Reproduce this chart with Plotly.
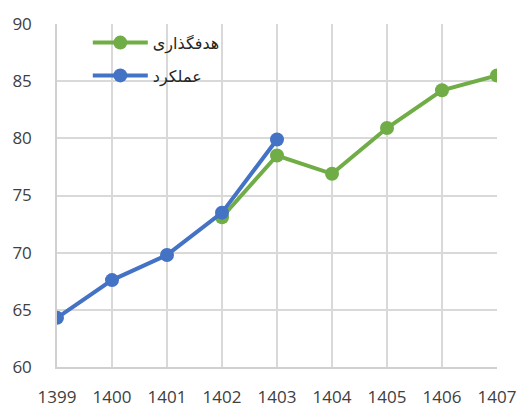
import plotly.graph_objects as go

years = ["1399", "1400", "1401", "1402", "1403", "1404", "1405", "1406", "1407"]
target_years = ["1402", "1403", "1404", "1405", "1406", "1407"]
target_values = [73.1, 78.5, 76.9, 80.9, 84.2, 85.5]
actual_years = ["1399", "1400", "1401", "1402", "1403"]
actual_values = [64.3, 67.6, 69.8, 73.5, 79.9]
target_name = "هدفگذاری"
actual_name = "عملکرد"

xi = {y: i for i, y in enumerate(years)}

fig = go.Figure()
fig.add_trace(go.Scatter(
    x=[xi[y] for y in target_years], y=target_values, name=target_name,
    legendgroup="t", mode="lines+markers", line=dict(color="#70AD47", width=4),
    marker=dict(size=14, color="#70AD47")))
fig.add_trace(go.Scatter(
    x=[xi[y] for y in actual_years], y=actual_values, name=actual_name,
    legendgroup="a", mode="lines+markers", line=dict(color="#4472C4", width=4),
    marker=dict(size=14, color="#4472C4")))

fig.update_layout(
    width=520, height=405,
    margin=dict(l=57, r=23, t=24, b=38),
    plot_bgcolor="white", paper_bgcolor="white",
    font=dict(family="Open Sans", size=17, color="#404040"),
    showlegend=True,
    legend=dict(x=0.07, y=0.995, xanchor="left", yanchor="top",
                bgcolor="rgba(0,0,0,0)", itemwidth=55, traceorder="grouped",
                font=dict(family="DejaVu Sans", size=16, color="#262626"),
                tracegroupgap=9),
    xaxis=dict(range=[0, 8], tickmode="array", tickvals=list(range(len(years))),
               ticktext=years, showgrid=True, gridcolor="#d9d9d9", gridwidth=1.5,
               showline=True, linecolor="#d0d0d0", linewidth=1.5, automargin=False,
               zeroline=False, ticks="", ticklabelstandoff=14),
    yaxis=dict(range=[60, 90], dtick=5, showgrid=True, gridcolor="#d9d9d9",
               gridwidth=1.5, showline=True, linecolor="#d0d0d0", linewidth=1.5,
               automargin=False, zeroline=False, ticks="", ticklabelstandoff=20),
)

fig.write_html("out.html", config={"displayModeBar": False},
               post_script="document.body.style.margin='0';document.body.style.overflow='hidden';")
